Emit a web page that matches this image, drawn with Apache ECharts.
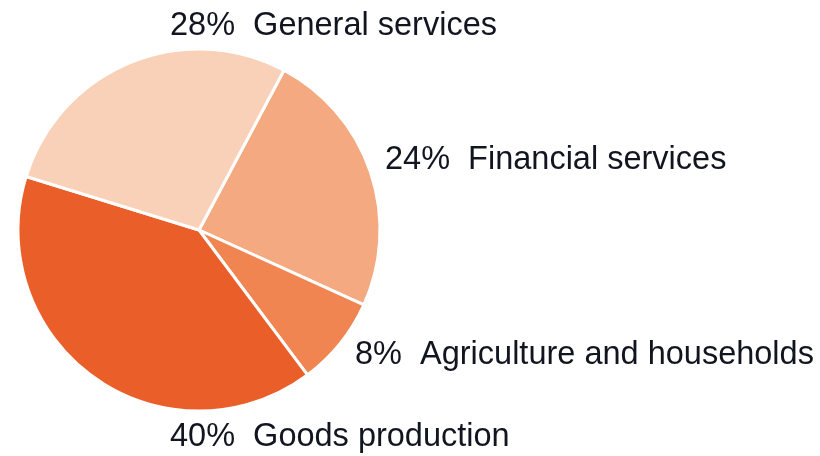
<!DOCTYPE html>
<html><head><meta charset="utf-8">
<script src="https://cdn.jsdelivr.net/npm/echarts@6/dist/echarts.min.js"></script>
<style>html,body{margin:0;padding:0;background:#fff}#c{width:820px;height:456px}</style>
</head><body><div id="c"></div>
<script>
const categories = ['Financial services', 'Agriculture and households', 'Goods production', 'General services'];
const shares = [24, 8, 40, 28];
const colors = ['#F4A981', '#F08552', '#EA5E29', '#F9D1B8'];
const labelPos = [[385, 160], [355, 355], [170, 437], [170, 26]];

const chart = echarts.init(document.getElementById('c'), null, {renderer: 'canvas'});
chart.setOption({
  animation: false,
  series: [{
    type: 'pie',
    center: [199, 230],
    radius: [0, 181],
    startAngle: 62,
    clockwise: true,
    data: categories.map((n, i) => ({name: n, value: shares[i], itemStyle: {color: colors[i]}})),
    itemStyle: {borderColor: '#fff', borderWidth: 3},
    label: {
      show: true,
      position: 'inside',
      overflow: 'none',
      formatter: p => p.value + '%  ' + p.name,
      color: '#11151f',
      fontFamily: 'Liberation Sans, Arial, sans-serif',
      fontSize: 32.5,
      textBorderWidth: 0
    },
    labelLine: {show: false},
    labelLayout: p => ({x: labelPos[p.dataIndex][0], y: labelPos[p.dataIndex][1], align: 'left', verticalAlign: 'middle'}),
    emphasis: {disabled: true}
  }]
});
</script></body></html>
